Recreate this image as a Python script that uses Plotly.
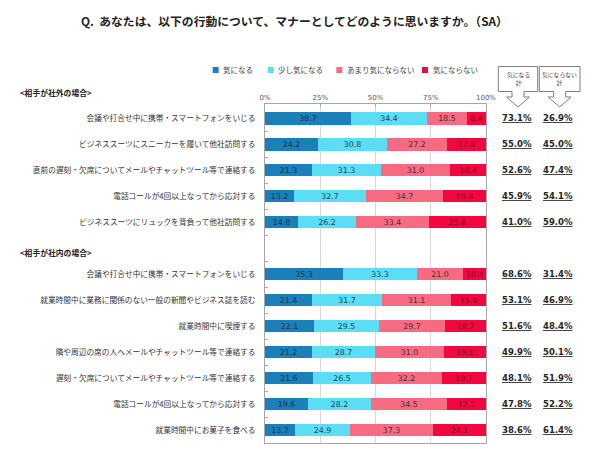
import plotly.graph_objects as go

# ---------------- data ----------------
title_text = "Q.  あなたは、以下の行動について、マナーとしてどのように思いますか。（SA）"
group_headers = ["<相手が社外の場合>", "<相手が社内の場合>"]

labels_out = [
    "会議や打合せ中に携帯・スマートフォンをいじる",
    "ビジネススーツにスニーカーを履いて他社訪問する",
    "直前の遅刻・欠席についてメールやチャットツール等で連絡する",
    "電話コールが4回以上なってから応対する",
    "ビジネススーツにリュックを背負って他社訪問する",
]
labels_in = [
    "会議や打合せ中に携帯・スマートフォンをいじる",
    "就業時間中に業務に関係のない一般の新聞やビジネス誌を読む",
    "就業時間中に喫煙する",
    "隣や周辺の席の人へメールやチャットツール等で連絡する",
    "遅刻・欠席についてメールやチャットツール等で連絡する",
    "電話コールが4回以上なってから応対する",
    "就業時間中にお菓子を食べる",
]

series_names = ["気になる", "少し気になる", "あまり気にならない", "気にならない"]

kininaru_out = [38.7, 24.2, 21.3, 13.2, 14.8]
sukoshi_out = [34.4, 30.8, 31.3, 32.7, 26.2]
amari_out = [18.5, 27.2, 31.0, 34.7, 33.4]
naranai_out = [8.4, 17.8, 16.4, 19.4, 25.6]

kininaru_in = [35.3, 21.4, 22.1, 21.2, 21.6, 19.6, 13.7]
sukoshi_in = [33.3, 31.7, 29.5, 28.7, 26.5, 28.2, 24.9]
amari_in = [21.0, 31.1, 29.7, 31.0, 32.2, 34.5, 37.3]
naranai_in = [10.4, 15.8, 18.7, 19.1, 19.7, 17.7, 24.1]

total_ki_out = [73.1, 55.0, 52.6, 45.9, 41.0]
total_naranai_out = [26.9, 45.0, 47.4, 54.1, 59.0]
total_ki_in = [68.6, 53.1, 51.6, 49.9, 48.1, 47.8, 38.6]
total_naranai_in = [31.4, 46.9, 48.4, 50.1, 51.9, 52.2, 61.4]

box_labels = ["気になる<br>計", "気にならない<br>計"]
x_ticks = [0, 25, 50, 75, 100]
x_ticktext = ["0%", "25%", "50%", "75%", "100%"]

# ---------------- layout helpers ----------------
W, H = 590, 453
L, R, T, B = 265, 104, 104, 10
PW, PH = W - L - R, H - T - B


def px(x):
    return (x - L) / PW


def py(y):
    return (H - B - y) / PH


# rows: group 1 -> 0..4, spacer row 5, group 2 -> 6..12
rows_out = list(range(len(labels_out)))
rows_in = [len(labels_out) + 1 + i for i in range(len(labels_in))]
rows = rows_out + rows_in
labels = labels_out + labels_in

series = [
    kininaru_out + kininaru_in,
    sukoshi_out + sukoshi_in,
    amari_out + amari_in,
    naranai_out + naranai_in,
]
colors = ["#1B7FBA", "#5ADDF5", "#F66B82", "#F2073F"]
text_colors = ["#16344f", "#23434d", "#4a2a32", "#7d0a25"]

NUMFONT = "DejaVu Sans"
JPFONT = "Noto Sans CJK JP"

fig = go.Figure()
for name, vals, col, tc in zip(series_names, series, colors, text_colors):
    fig.add_trace(go.Bar(
        name=name, y=rows, x=vals, orientation="h",
        marker=dict(color=col, line=dict(width=0)),
        width=0.48,
        text=[f"{v:.1f}" for v in vals],
        textposition="inside", insidetextanchor="middle", textangle=0,
        constraintext="none",
        textfont=dict(family=NUMFONT, size=7.8, color=tc),
        showlegend=False, cliponaxis=False,
    ))

ann = []
# title
ann.append(dict(text=f"<b>{title_text}</b>", x=px(294), y=py(20), xref="paper", yref="paper",
                xanchor="center", yanchor="middle", showarrow=False,
                font=dict(family=JPFONT, size=11.8, color="#222222")))
# group headers
for txt, yy in zip(group_headers, [92.5, 252.5]):
    ann.append(dict(text=f"<b>{txt}</b>", x=px(18), y=py(yy), xref="paper", yref="paper",
                    xanchor="left", yanchor="middle", showarrow=False,
                    font=dict(family=JPFONT, size=7.8, color="#222222")))
# legend (manual, compact)
legend_x = [215.7, 270.7, 339.3, 425.0]
shapes = []
for name, col, lx in zip(series_names, colors, legend_x):
    shapes.append(dict(type="rect", xref="paper", yref="paper",
                       x0=px(lx - 3), x1=px(lx + 3), y0=py(73), y1=py(67),
                       fillcolor=col, line=dict(width=0)))
    ann.append(dict(text=name, x=px(lx + 5.5), y=py(70), xref="paper", yref="paper",
                    xanchor="left", yanchor="middle", showarrow=False,
                    font=dict(family=JPFONT, size=7.5, color="#404040")))
# total columns
tot_ki = total_ki_out + total_ki_in
tot_na = total_naranai_out + total_naranai_in
for r, a, b in zip(rows, tot_ki, tot_na):
    for val, cx in ((a, 517), (b, 558)):
        ann.append(dict(text=f"<b><u>{val:.1f}%</u></b>", x=px(cx), y=r, xref="paper", yref="y",
                        xanchor="center", yanchor="middle", showarrow=False,
                        font=dict(family=NUMFONT, size=8.5, color="#262626")))
# header boxes with down arrows
for lbl, (x0, x1) in zip(box_labels, [(498.3, 537.7), (539.3, 580.0)]):
    cx = (x0 + x1) / 2
    top, body, head, tip = 66.5, 91.5, 97.0, 107.0
    path = (f"M{px(x0)},{py(top)} L{px(x1)},{py(top)} L{px(x1)},{py(body)} "
            f"L{px(cx + 6)},{py(body)} L{px(cx + 6)},{py(head)} L{px(cx + 11.5)},{py(head)} "
            f"L{px(cx)},{py(tip)} L{px(cx - 11.5)},{py(head)} L{px(cx - 6)},{py(head)} "
            f"L{px(cx - 6)},{py(body)} L{px(x0)},{py(body)} Z")
    shapes.append(dict(type="path", xref="paper", yref="paper", path=path,
                       fillcolor="white", line=dict(color="#7f7f7f", width=1)))
    ann.append(dict(text=lbl, x=px(cx), y=py(78.5), xref="paper", yref="paper",
                    xanchor="center", yanchor="middle", showarrow=False,
                    font=dict(family=JPFONT, size=5.8, color="#404040")))

fig.update_layout(
    width=W, height=H, barmode="stack",
    margin=dict(l=L, r=R, t=T, b=B, autoexpand=False),
    paper_bgcolor="white", plot_bgcolor="white",
    font=dict(family=JPFONT, size=8, color="#333333"),
    annotations=ann, shapes=shapes, bargap=0,
    xaxis=dict(side="top", range=[0, 100.0001], tickmode="array", tickvals=x_ticks, ticktext=x_ticktext,
               ticks="inside", ticklen=3, tickcolor="#a6a6a6",
               showline=True, linecolor="#a6a6a6", linewidth=1, mirror=True,
               showgrid=True, gridcolor="#d9d9d9", gridwidth=1, zeroline=False,
               tickfont=dict(family=NUMFONT, size=7, color="#595959")),
    yaxis=dict(range=[12.5, -0.55], tickmode="array", tickvals=rows, ticktext=labels,
               ticks="", showline=True, linecolor="#a6a6a6", linewidth=1, mirror=True,
               showgrid=False, zeroline=False, ticklabelstandoff=7,
               tickfont=dict(family=JPFONT, size=7.7, color="#333333"),
               minor=dict(tickmode="array", tickvals=[k + 0.5 for k in range(12)],
                          ticks="inside", ticklen=3, tickcolor="#a6a6a6", showgrid=False)),
)

fig.write_html("out.html")
